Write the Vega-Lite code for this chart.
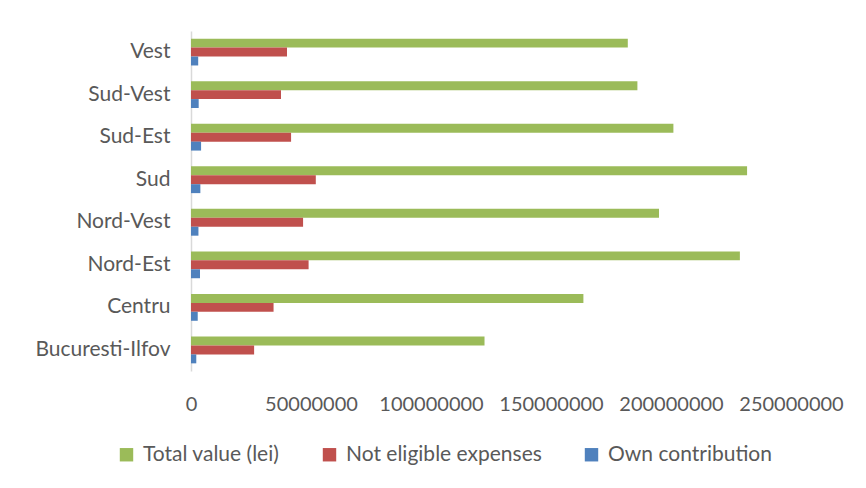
{
  "$schema": "https://vega.github.io/schema/vega-lite/v6.json",
  "autosize": {"type": "none"},
  "width": 600,
  "height": 340,
  "padding": {"left": 191, "top": 31, "right": 75, "bottom": 117},
  "background": "white",
  "config": {
    "view": {"stroke": null},
    "font": "Lato",
    "axis": {"labelFont": "Lato", "labelColor": "#595959", "labelFontSize": 19},
    "legend": {"labelFont": "Lato", "labelColor": "#595959", "labelFontSize": 21}
  },
  "data": {
    "values": [
      {"region": "Vest", "series": "Total value (lei)", "value": 182000000},
      {"region": "Vest", "series": "Not eligible expenses", "value": 40000000},
      {"region": "Vest", "series": "Own contribution", "value": 3000000},
      {"region": "Sud-Vest", "series": "Total value (lei)", "value": 186000000},
      {"region": "Sud-Vest", "series": "Not eligible expenses", "value": 37500000},
      {"region": "Sud-Vest", "series": "Own contribution", "value": 3200000},
      {"region": "Sud-Est", "series": "Total value (lei)", "value": 201000000},
      {"region": "Sud-Est", "series": "Not eligible expenses", "value": 41700000},
      {"region": "Sud-Est", "series": "Own contribution", "value": 4200000},
      {"region": "Sud", "series": "Total value (lei)", "value": 231700000},
      {"region": "Sud", "series": "Not eligible expenses", "value": 52000000},
      {"region": "Sud", "series": "Own contribution", "value": 3900000},
      {"region": "Nord-Vest", "series": "Total value (lei)", "value": 195000000},
      {"region": "Nord-Vest", "series": "Not eligible expenses", "value": 46700000},
      {"region": "Nord-Vest", "series": "Own contribution", "value": 3100000},
      {"region": "Nord-Est", "series": "Total value (lei)", "value": 228700000},
      {"region": "Nord-Est", "series": "Not eligible expenses", "value": 49000000},
      {"region": "Nord-Est", "series": "Own contribution", "value": 3750000},
      {"region": "Centru", "series": "Total value (lei)", "value": 163500000},
      {"region": "Centru", "series": "Not eligible expenses", "value": 34400000},
      {"region": "Centru", "series": "Own contribution", "value": 2800000},
      {"region": "Bucuresti-Ilfov", "series": "Total value (lei)", "value": 122300000},
      {"region": "Bucuresti-Ilfov", "series": "Not eligible expenses", "value": 26300000},
      {"region": "Bucuresti-Ilfov", "series": "Own contribution", "value": 2200000}
    ]
  },
  "mark": {"type": "bar"},
  "encoding": {
    "y": {
      "field": "region",
      "type": "nominal",
      "sort": ["Vest", "Sud-Vest", "Sud-Est", "Sud", "Nord-Vest", "Nord-Est", "Centru", "Bucuresti-Ilfov"],
      "scale": {"paddingInner": 0.37, "paddingOuter": 0.18},
      "axis": {"title": null, "ticks": false, "labelPadding": 21, "labelFontSize": 21, "domainColor": "#D9D9D9", "domainWidth": 1.5}
    },
    "yOffset": {
      "field": "series",
      "type": "nominal",
      "sort": ["Total value (lei)", "Not eligible expenses", "Own contribution"]
    },
    "x": {
      "field": "value",
      "type": "quantitative",
      "scale": {"domain": [0, 250000000], "nice": false},
      "axis": {"title": null, "grid": false, "domain": false, "ticks": false, "values": [0, 50000000, 100000000, 150000000, 200000000, 250000000], "format": "d", "labelPadding": 23, "labelFlush": false, "labelFontSize": 20}
    },
    "color": {
      "field": "series",
      "type": "nominal",
      "sort": ["Total value (lei)", "Not eligible expenses", "Own contribution"],
      "scale": {"domain": ["Total value (lei)", "Not eligible expenses", "Own contribution"], "range": ["#9BBB59", "#C0504D", "#4F81BD"]},
      "legend": {"title": null, "orient": "none", "legendX": -75, "legendY": 413, "direction": "horizontal", "symbolType": "square", "symbolSize": 180, "symbolStrokeWidth": 0, "labelOffset": 6, "columnPadding": 39, "labelLimit": 300}
    }
  }
}
